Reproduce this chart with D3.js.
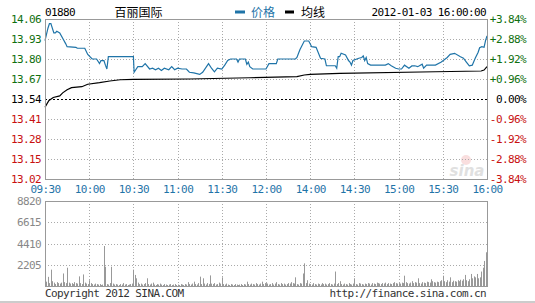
<!DOCTYPE html>
<html>
<head>
<meta charset="utf-8">
<script src="https://cdn.jsdelivr.net/npm/d3@7"></script>
<style>
  body { margin: 0; background: #fff; }
  svg { display: block; }
</style>
</head>
<body>
<div id="chart"></div>
<script>
// ---- data ----
const stockCode = '01880';
const stockName = '百丽国际';
const stampText = '2012-01-03 16:00:00';
const prevClose = 13.54;

const priceTicks = [14.06, 13.93, 13.80, 13.67, 13.54, 13.41, 13.28, 13.15, 13.02];
const pctLabels = ['+3.84%', '+2.88%', '+1.92%', '+0.96%', '0.00%', '-0.96%', '-1.92%', '-2.88%', '-3.84%'];
const timeSlots = [0, 30, 60, 90, 120, 150, 180, 210, 240, 270, 300];
const timeLabels = ['09:30', '10:00', '10:30', '11:00', '11:30', '12:00', '14:00', '14:30', '15:00', '15:30', '16:00'];
const volTicks = [8820, 6615, 4410, 2205];

// [minute slot, price]
const pricePts = [
  [0, 13.92], [2, 14.00], [3, 14.03], [4, 14.03], [6, 13.97], [7, 13.97], [8, 13.98], [10, 13.97],
  [12, 13.935], [14, 13.90], [15, 13.88], [21, 13.875], [22, 13.87], [27, 13.87], [29, 13.83],
  [32, 13.80], [35, 13.80], [37, 13.77], [38, 13.79], [40, 13.79], [41, 13.76], [42, 13.735],
  [43, 13.815], [60, 13.815], [60.5, 13.714], [63, 13.75], [66, 13.75], [68, 13.77], [71, 13.735],
  [73, 13.74], [75, 13.73], [77, 13.74], [79, 13.725], [81, 13.74], [84, 13.73], [86, 13.75],
  [88, 13.73], [90, 13.74], [93, 13.735], [96, 13.735], [98, 13.714], [101, 13.71], [105, 13.70],
  [107, 13.714], [111, 13.77], [113, 13.74], [115, 13.717], [117, 13.74], [120, 13.735],
  [122, 13.76], [124, 13.79], [126, 13.80], [130, 13.80], [131, 13.78], [132, 13.80], [136, 13.80],
  [137, 13.766], [138, 13.78], [139, 13.75], [141, 13.735], [150, 13.735], [152, 13.77],
  [157, 13.77], [158, 13.80], [170, 13.80], [171, 13.81], [173, 13.86], [176, 13.917], [179, 13.917],
  [181, 13.88], [184, 13.876], [187, 13.805], [190, 13.80], [191, 13.756], [197, 13.756],
  [198, 13.74], [199, 13.815], [200, 13.815], [201, 13.837], [204, 13.826], [206, 13.79],
  [207, 13.78], [208, 13.76], [209, 13.79], [213, 13.805], [215, 13.81], [216, 13.82], [217, 13.79],
  [218, 13.81], [219, 13.77], [221, 13.76], [231, 13.76], [233, 13.77], [235, 13.756], [238, 13.74],
  [240, 13.735], [242, 13.735], [244, 13.76], [247, 13.74], [249, 13.755], [251, 13.756],
  [253, 13.75], [256, 13.766], [257, 13.74], [259, 13.76], [265, 13.76], [269, 13.78], [273, 13.81],
  [275, 13.83], [278, 13.837], [282, 13.815], [284, 13.805], [286, 13.78], [288, 13.756],
  [290, 13.76], [292, 13.805], [294, 13.844], [295, 13.873], [296.5, 13.88], [298, 13.876],
  [299, 13.92], [300, 13.95]
];

const avgPts = [
  [0, 13.486], [1.4, 13.51], [2.7, 13.53], [5.6, 13.55], [10, 13.56], [12, 13.58], [15, 13.60],
  [18, 13.614], [25, 13.62], [29, 13.636], [37, 13.646], [44, 13.657], [51, 13.665], [60, 13.668],
  [98, 13.67], [139, 13.678], [171, 13.685], [176, 13.696], [180, 13.70], [200, 13.707],
  [265, 13.717], [296, 13.722], [298, 13.728], [300, 13.75]
];

// one value per minute slot, 0..300
const volumes = [
  600, 450, 950, 300, 1700, 500, 350, 200, 400, 300, 250, 350, 1300, 400, 300, 1900, 350, 250, 300, 200, 400, 300, 250, 1000, 300, 200, 1200, 350, 250, 200,
  600, 300, 200, 150, 250, 200, 150, 200, 100, 150, 4150, 2000, 200, 150, 300, 2000, 250, 150, 200, 150, 100, 200, 150, 300, 150, 200, 100, 150, 200, 250,
  1700, 1150, 800, 350, 200, 250, 150, 200, 300, 800, 200, 150, 250, 350, 150, 100, 200, 150, 250, 150, 100, 200, 150, 100, 150, 200, 100, 150, 200, 100,
  150, 100, 200, 150, 100, 200, 150, 400, 200, 150, 250, 450, 200, 150, 300, 970, 200, 800, 250, 150, 300, 200, 1100, 250, 200, 300, 150, 200, 350, 250,
  900, 200, 150, 250, 150, 100, 200, 150, 100, 200, 150, 100, 150, 200, 100, 200, 150, 450, 200, 150, 250, 200, 150, 300, 200, 150, 250, 450, 200, 300,
  300, 250, 150, 200, 300, 150, 250, 400, 200, 150, 300, 200, 250, 150, 200, 300, 250, 400, 300, 250, 900, 200, 150, 300, 250, 1300, 2350, 300, 600, 250,
  200, 150, 300, 200, 150, 250, 200, 150, 300, 200, 250, 150, 200, 300, 200, 150, 250, 1500, 200, 300, 500, 200, 150, 250, 200, 150, 300, 200, 150, 250,
  800, 200, 150, 300, 250, 200, 150, 250, 200, 300, 250, 150, 300, 250, 200, 350, 300, 250, 200, 300, 250, 350, 200, 300, 250, 200, 300, 400, 300, 250,
  300, 250, 350, 300, 1070, 400, 300, 250, 350, 500, 300, 400, 350, 800, 300, 250, 400, 350, 300, 450, 400, 350, 700, 500, 400, 350, 450, 400, 500, 600,
  1070, 500, 400, 600, 450, 900, 400, 550, 500, 450, 600, 500, 650, 550, 700, 1150, 600, 500, 700, 1250, 800, 1000, 900, 1250, 800, 900, 1500, 1900, 2600, 3500,
  8800
];

// ---- colours / fonts ----
const MONO = '"DejaVu Sans Mono", monospace';
const CJK = '"Noto Sans CJK SC", sans-serif';
const BLUE = '#1f74a8';
const GREEN = '#107010';
const RED = '#c81010';
const GRID = '#aaa';
const FRAME = '#999';

const W = 535, H = 303;
const P = { l: 45, r: 487, t: 19, b: 179 };
const V = { t: 201, b: 286 };

const svg = d3.select('#chart').append('svg').attr('width', W).attr('height', H);

const x = d3.scaleLinear().domain([0, 300]).range([P.l, P.r]);
const y = d3.scaleLinear().domain([13.02, 14.06]).range([P.b, P.t]);
const yv = d3.scaleLinear().domain([0, 8820]).range([V.b, V.t]);

const tickColor = (d) => Math.abs(d - prevClose) < 1e-6 ? '#000' : (d > prevClose ? GREEN : RED);

// watermark
const wm = svg.append('g').attr('opacity', 0.45);
wm.append('circle').attr('cx', 466).attr('cy', 160).attr('r', 5).attr('fill', '#f2b8b8');
wm.append('text').attr('x', 467).attr('y', 176).attr('text-anchor', 'middle')
  .attr('font-family', 'Verdana, "DejaVu Sans", sans-serif').attr('font-style', 'italic').attr('font-weight', 700)
  .attr('font-size', 15).attr('fill', '#bbb').text('sina');

// price grid
svg.append('g').selectAll('line').data(priceTicks.filter((d, i) => i > 0 && i < priceTicks.length - 1 && d !== prevClose)).join('line')
  .attr('x1', P.l).attr('x2', P.r).attr('y1', (d) => Math.round(y(d)) + 0.5).attr('y2', (d) => Math.round(y(d)) + 0.5)
  .attr('stroke', GRID).attr('stroke-dasharray', '1,2');
svg.append('g').selectAll('line').data(timeSlots.slice(1, -1)).join('line')
  .attr('x1', (d) => Math.round(x(d)) + 0.5).attr('x2', (d) => Math.round(x(d)) + 0.5).attr('y1', P.t).attr('y2', P.b)
  .attr('stroke', GRID).attr('stroke-dasharray', '1,2');
svg.append('line').attr('x1', P.l).attr('x2', P.r)
  .attr('y1', Math.round(y(prevClose)) + 0.5).attr('y2', Math.round(y(prevClose)) + 0.5)
  .attr('stroke', '#000').attr('stroke-dasharray', '2,2');

// lines
const line = d3.line().x((d) => x(d[0])).y((d) => y(d[1]));
svg.append('path').datum(avgPts).attr('d', line).attr('fill', 'none').attr('stroke', '#000').attr('stroke-width', 1.2);
svg.append('path').datum(pricePts).attr('d', line).attr('fill', 'none').attr('stroke', BLUE).attr('stroke-width', 1.2);

// frame
svg.append('rect').attr('x', P.l + 0.5).attr('y', P.t + 0.5).attr('width', P.r - P.l).attr('height', P.b - P.t)
  .attr('fill', 'none').attr('stroke', FRAME);

// left price axis
const axL = svg.append('g').attr('transform', `translate(${P.l},0)`)
  .call(d3.axisLeft(y).tickValues(priceTicks).tickSize(0).tickPadding(4).tickFormat(d3.format('.2f')));
axL.select('.domain').remove();
axL.selectAll('text').attr('font-family', MONO).attr('font-size', 11).attr('letter-spacing', -0.6)
  .attr('fill', tickColor);

// right percent axis
const axR = svg.append('g').attr('transform', `translate(${P.r},0)`)
  .call(d3.axisRight(y).tickValues(priceTicks).tickSize(0).tickFormat((d, i) => pctLabels[i]));
axR.select('.domain').remove();
axR.selectAll('text').attr('x', 39).attr('text-anchor', 'end').attr('font-family', MONO).attr('font-size', 11)
  .attr('letter-spacing', -0.6).attr('fill', tickColor);

// time axis
const axT = svg.append('g').attr('transform', `translate(0,${P.b})`)
  .call(d3.axisBottom(x).tickValues(timeSlots).tickSize(0).tickFormat((d, i) => timeLabels[i]));
axT.select('.domain').remove();
axT.selectAll('text').attr('y', 10.5).attr('dy', '0.35em').attr('font-family', MONO).attr('font-size', 11)
  .attr('letter-spacing', -0.6).attr('fill', BLUE);

// volume panel
svg.append('g').selectAll('line').data(volTicks.slice(1)).join('line')
  .attr('x1', P.l).attr('x2', P.r).attr('y1', (d) => Math.round(yv(d)) + 0.5).attr('y2', (d) => Math.round(yv(d)) + 0.5)
  .attr('stroke', GRID).attr('stroke-dasharray', '1,2');
svg.append('g').selectAll('line').data(timeSlots.slice(1, -1)).join('line')
  .attr('x1', (d) => Math.round(x(d)) + 0.5).attr('x2', (d) => Math.round(x(d)) + 0.5).attr('y1', V.t).attr('y2', V.b)
  .attr('stroke', GRID).attr('stroke-dasharray', '1,2');
svg.append('g').selectAll('rect').data(volumes).join('rect')
  .attr('x', (d, i) => Math.round(x(i))).attr('width', 1)
  .attr('y', (d) => yv(d)).attr('height', (d) => V.b - yv(d))
  .attr('fill', '#999');
svg.append('rect').attr('x', P.l + 0.5).attr('y', V.t + 0.5).attr('width', P.r - P.l).attr('height', V.b - V.t)
  .attr('fill', 'none').attr('stroke', FRAME);

const axV = svg.append('g').attr('transform', `translate(${P.l},0)`)
  .call(d3.axisLeft(yv).tickValues(volTicks).tickSize(0).tickPadding(4).tickFormat(d3.format('d')));
axV.select('.domain').remove();
axV.selectAll('text').attr('font-family', MONO).attr('font-size', 11).attr('letter-spacing', -0.6).attr('fill', '#888');

// header
const txt = (xx, yy, s, o = {}) => svg.append('text').attr('x', xx).attr('y', yy).attr('dy', '0.35em')
  .attr('font-family', o.font || MONO).attr('font-size', o.size || 11).attr('letter-spacing', o.ls ?? -0.6)
  .attr('text-anchor', o.anchor || 'start').attr('fill', o.fill || '#000').text(s);
txt(45, 12, stockCode);
txt(138.5, 12.5, stockName, { font: CJK, size: 12, ls: 0, anchor: 'middle' });
svg.append('rect').attr('x', 235).attr('y', 10.5).attr('width', 10).attr('height', 3).attr('fill', BLUE);
txt(251, 12.5, '价格', { font: CJK, size: 12, ls: 0, fill: BLUE });
svg.append('rect').attr('x', 285).attr('y', 10.5).attr('width', 9).attr('height', 3).attr('fill', '#000');
txt(301, 12.5, '均线', { font: CJK, size: 12, ls: 0 });
txt(486, 12, stampText, { anchor: 'end' });

// footer
txt(45, 293.5, 'Copyright 2012 SINA.COM', { fill: '#333' });
txt(486, 293.5, 'http://finance.sina.com.cn', { anchor: 'end', fill: '#333' });
svg.append('rect').attr('x', 0).attr('y', 301).attr('width', W).attr('height', 2).attr('fill', '#ccc');
</script>
</body>
</html>
